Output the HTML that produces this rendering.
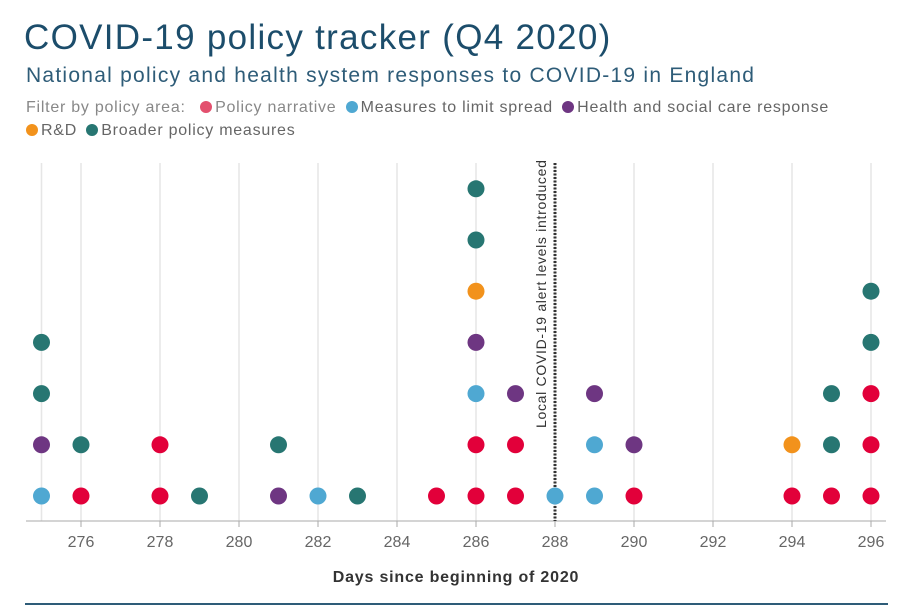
<!DOCTYPE html>
<html><head><meta charset="utf-8"><style>
body{margin:0;width:910px;height:607px;background:#fff;overflow:hidden;font-family:"Liberation Sans",sans-serif}
#t{position:absolute;left:24px;top:18px;font-size:35px;color:#1c4d6b;letter-spacing:1.3px;margin:0;font-weight:normal}
#s{position:absolute;left:26px;top:64px;font-size:21px;color:#2e5c78;letter-spacing:1.25px}
.lg{position:absolute;left:26px;font-size:16px;color:#888;letter-spacing:0.75px}
.d{display:inline-block;width:12px;height:12px;border-radius:50%;vertical-align:-1px;margin:0 3px 0 4px}
svg{position:absolute;left:0;top:0}
</style></head><body>
<h1 id="t">COVID-19 policy tracker (Q4 2020)</h1>
<div id="s">National policy and health system responses to COVID-19 in England</div>
<div class="lg" style="top:99px">Filter by policy area: &nbsp;<span><span class="d" style="background:#e3506e"></span>Policy narrative</span> <span><span class="d" style="background:#4fa8d2"></span><span style="color:#666">Measures to limit spread</span></span> <span><span class="d" style="background:#6e3682"></span><span style="color:#666">Health and social care response</span></span></div>
<div class="lg" style="top:122px;left:22px"><span><span class="d" style="background:#f2921c"></span><span style="color:#666">R&amp;D</span></span> <span><span class="d" style="background:#277672"></span><span style="color:#666">Broader policy measures</span></span></div>
<svg id="c" width="910" height="607"></svg>
<script>
const days=[275,276,278,279,281,282,283,285,286,287,288,289,290,294,295,296];
const stacks=[["b","p","g","g"],["r","g"],["r","r"],["g"],["p","g"],["b"],["g"],["r"],["r","r","b","p","o","g","g"],["r","r","p"],["b"],["b","b","p"],["r","p"],["r","o"],["r","g","g"],["r","r","r","g","g"]];
const ticks=[276,278,280,282,284,286,288,290,292,294,296];
const marker=288;
const col={r:"#e2003a",b:"#4fa8d2",p:"#6e3682",o:"#f2921c",g:"#277672"};
const NS="http://www.w3.org/2000/svg",svg=document.getElementById('c');
const x=d=>81+(d-276)*39.5, y=i=>496-i*51.2;
function mk(t,a){const e=document.createElementNS(NS,t);for(const k in a)e.setAttribute(k,a[k]);svg.appendChild(e);return e;}
for(let d=275;d<=296;d++){if(d%2==0||d==275){const g=mk('line',{x1:x(d),x2:x(d),y1:163,y2:521,stroke:'#e6e6e6','stroke-width':1.5});

}}
const ax=mk('line',{x1:26,x2:886,y1:521,y2:521,stroke:'#aaa'});


ticks.forEach(t=>{const l=mk('line',{x1:x(t),x2:x(t),y1:521,y2:527,stroke:'#aaa'});


const tx=mk('text',{x:x(t),y:547,'text-anchor':'middle','font-size':16,fill:'#666'});tx.textContent=t;

});
const ml=mk('line',{x1:x(marker),x2:x(marker),y1:163,y2:521,stroke:'#333','stroke-width':3,'stroke-dasharray':'2 1.5'});


const mt=mk('text',{transform:`translate(${x(marker)-9},428) rotate(-90)`,'font-size':14,'letter-spacing':0.7,fill:'#333'});mt.textContent='Local COVID-19 alert levels introduced';


days.forEach((d,i)=>stacks[i].forEach((c,j)=>{const e=mk('circle',{cx:x(d),cy:y(j),r:8.5,fill:col[c]});

}));
const xt=mk('text',{x:456,y:582,'text-anchor':'middle','font-size':16,'letter-spacing':0.8,'font-weight':'bold',fill:'#333'});xt.textContent='Days since beginning of 2020';


const bl=mk('line',{x1:25,x2:888,y1:604,y2:604,stroke:'#2e5c78','stroke-width':2});


</script>
</body></html>
